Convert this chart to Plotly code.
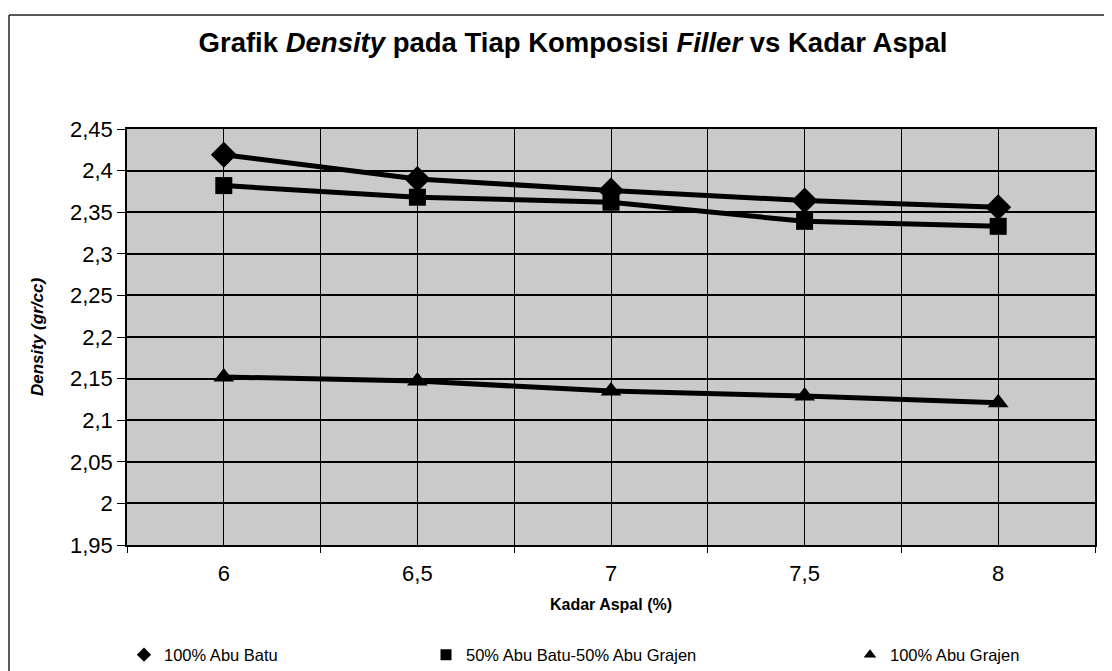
import plotly.graph_objects as go

# ---- data ----
kadar_aspal = [6, 6.5, 7, 7.5, 8]
x_tick_text = ["6", "6,5", "7", "7,5", "8"]
abu_batu = [2.419, 2.390, 2.376, 2.364, 2.356]
abu_batu_grajen = [2.382, 2.368, 2.362, 2.339, 2.333]
abu_grajen = [2.152, 2.147, 2.135, 2.129, 2.121]
y_tick_vals = [1.95, 2.0, 2.05, 2.1, 2.15, 2.2, 2.25, 2.3, 2.35, 2.4, 2.45]
y_tick_text = ["1,95", "2", "2,05", "2,1", "2,15", "2,2", "2,25", "2,3", "2,35", "2,4", "2,45"]
x_boundaries = [5.75, 6.25, 6.75, 7.25, 7.75, 8.25]
series_names = ["100% Abu Batu", "50% Abu Batu-50% Abu Grajen", "100% Abu Grajen"]

# page has an 8px body margin; layout pixels = page pixels - OFF
OFF = 8
W, H = 1112 - OFF, 671 - OFF
L, R = 127 - OFF, 1112 - 1095
T, B = 129 - OFF, 671 - 545
FONT = "Liberation Sans, Arial, sans-serif"


def px_x(px):
    return (px - OFF - L) / (W - L - R)


def px_y(py):
    return (H - B - (py - OFF)) / (H - T - B)


fig = go.Figure()
series = [
    (abu_batu, "diamond", 20),
    (abu_batu_grajen, "square", 17),
    (abu_grajen, "triangle-up", 18),
]
for i, (vals, sym, size) in enumerate(series):
    fig.add_trace(go.Scatter(
        x=kadar_aspal, y=vals, mode="lines+markers",
        line=dict(color="black", width=5),
        marker=dict(symbol=sym, size=size, color="black"),
        showlegend=False, name=series_names[i],
    ))

legend_x = [124, 426, 850]
legend_keys = ["legend", "legend2", "legend3"]
for i, (vals, sym, size) in enumerate(series):
    fig.add_trace(go.Scatter(
        x=[None], y=[None], mode="markers",
        marker=dict(symbol=sym, size=11, color="black"),
        name=series_names[i], legend=legend_keys[i], showlegend=True,
    ))

leg_common = dict(
    xref="container", yref="container", xanchor="left", yanchor="middle",
    orientation="h",
    y=1 - (655 - OFF) / H, bgcolor="rgba(0,0,0,0)", itemwidth=30,
    font=dict(family=FONT, size=16.5, color="black"),
)

fig.update_layout(
    width=W, height=H,
    margin=dict(l=L, r=R, t=T, b=B, autoexpand=False),
    paper_bgcolor="white",
    plot_bgcolor="#cacaca",
    font=dict(family=FONT, color="black"),
    title=dict(
        text="<b>Grafik <i>Density</i> pada Tiap Komposisi <i>Filler</i> vs Kadar Aspal</b>",
        x=(573 - OFF) / W, xref="container", xanchor="center",
        y=1 - (42 - OFF) / H, yref="container", yanchor="middle",
        font=dict(family=FONT, size=27.5, color="black"),
    ),
    xaxis=dict(
        range=[5.75, 8.25],
        tickvals=kadar_aspal, ticktext=x_tick_text,
        ticks="", showgrid=True, gridcolor="black", gridwidth=1.2,
        tickfont=dict(family=FONT, size=22, color="black"),
        showline=True, mirror=True, linecolor="black", linewidth=1.5,
        zeroline=False, automargin=False,
        minor=dict(tickvals=x_boundaries, ticks="outside", ticklen=6,
                   tickcolor="black", showgrid=True, gridcolor="black", gridwidth=1.2),
        title=dict(text="<b>Kadar Aspal (%)</b>", standoff=14,
                   font=dict(family=FONT, size=16, color="black")),
        ticklabelstandoff=8,
    ),
    yaxis=dict(
        range=[1.95, 2.45],
        tickvals=y_tick_vals, ticktext=y_tick_text,
        ticks="outside", ticklen=8, tickcolor="black",
        showgrid=True, gridcolor="black", gridwidth=1.6,
        tickfont=dict(family=FONT, size=22, color="black"),
        showline=True, mirror=True, linecolor="black", linewidth=1.5,
        zeroline=False, automargin=False,
        title=dict(text="<b><i>Density (gr/cc)</i></b>", standoff=22,
                   font=dict(family=FONT, size=17, color="black")),
    ),
    legend=dict(x=(legend_x[0] - OFF) / W, **leg_common),
    legend2=dict(x=(legend_x[1] - OFF) / W, **leg_common),
    legend3=dict(x=(legend_x[2] - OFF) / W, **leg_common),
    shapes=[
        dict(type="line", xref="paper", yref="paper",
             x0=px_x(OFF + 1), x1=px_x(OFF + 1), y0=px_y(15), y1=px_y(680),
             line=dict(color="#222", width=1.5)),
        dict(type="line", xref="paper", yref="paper",
             x0=px_x(OFF + 1), x1=px_x(1120), y0=px_y(15), y1=px_y(15),
             line=dict(color="#222", width=1.5)),
    ],
)

fig.write_html("out.html")
